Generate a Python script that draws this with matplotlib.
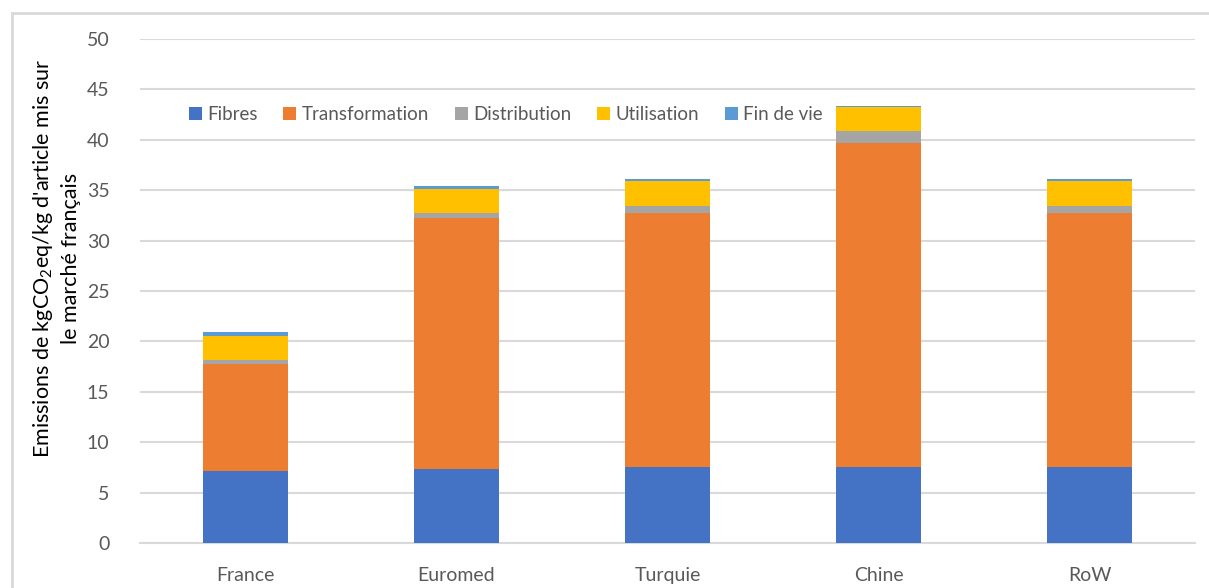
import matplotlib.pyplot as plt
from matplotlib.patches import Rectangle
import numpy as np

plt.rcParams['font.family'] = ['Lato', 'DejaVu Sans']
plt.rcParams['mathtext.fontset'] = 'custom'
plt.rcParams['mathtext.rm'] = 'Lato'
plt.rcParams['mathtext.default'] = 'regular'

pays = ['France', 'Euromed', 'Turquie', 'Chine', 'RoW']
fibres = [7.1, 7.35, 7.55, 7.55, 7.55]
transformation = [10.65, 24.9, 25.2, 32.1, 25.2]
distribution = [0.4, 0.5, 0.7, 1.2, 0.7]
utilisation = [2.4, 2.4, 2.45, 2.4, 2.45]
fin_de_vie = [0.35, 0.3, 0.2, 0.1, 0.2]

etapes = ['Fibres', 'Transformation', 'Distribution', 'Utilisation', 'Fin de vie']
series = [fibres, transformation, distribution, utilisation, fin_de_vie]
couleurs = ['#4472C4', '#ED7D31', '#A5A5A5', '#FFC000', '#5B9BD5']

fig = plt.figure(figsize=(12.09, 5.88), dpi=100)
ax = fig.add_axes([140 / 1209, 1 - 543 / 588, 1055 / 1209, 504 / 588])

# cadre gris autour du graphique
fig.patches.append(Rectangle((12 / 1209, -0.05), 1.2, 1 - 13 / 588 + 0.05,
                             transform=fig.transFigure, fill=False,
                             edgecolor='#D9D9D9', linewidth=2))

x = np.arange(len(pays))
bas = np.zeros(len(pays))
for nom, vals, c in zip(etapes, series, couleurs):
    ax.bar(x, vals, 0.4, bottom=bas, color=c, label=nom, zorder=3)
    bas += np.array(vals)

ax.set_xlim(-0.5, len(pays) - 0.5)
ax.set_ylim(0, 50)
ax.set_yticks(range(0, 51, 5))
ax.set_xticks(x)
ax.set_xticklabels(pays)
ax.yaxis.grid(True, color='#D9D9D9', linewidth=1.5, zorder=0)
ax.set_axisbelow(True)
for s in ['top', 'right', 'left']:
    ax.spines[s].set_visible(False)
ax.spines['bottom'].set_color('#D9D9D9')
ax.spines['bottom'].set_linewidth(1.5)
ax.tick_params(axis='both', length=0, labelsize=14, labelcolor='#595959')
ax.tick_params(axis='x', pad=17)
ax.tick_params(axis='y', pad=22)

ax.set_ylabel("Emissions de kgCO$_2$eq/kg d'article mis sur\nle marché français",
              fontsize=15.5, color='black', linespacing=1.4)
ax.yaxis.set_label_coords(-0.056, 0.565)

leg = ax.legend(loc='center left', bbox_to_anchor=(0.03, 0.85), ncol=5,
                frameon=False, fontsize=13.5, handlelength=0.7, handleheight=0.7,
                handletextpad=0.3, columnspacing=1.35, labelcolor='#595959')
leg.set_zorder(1)

fig.savefig('out.png', dpi=100)
